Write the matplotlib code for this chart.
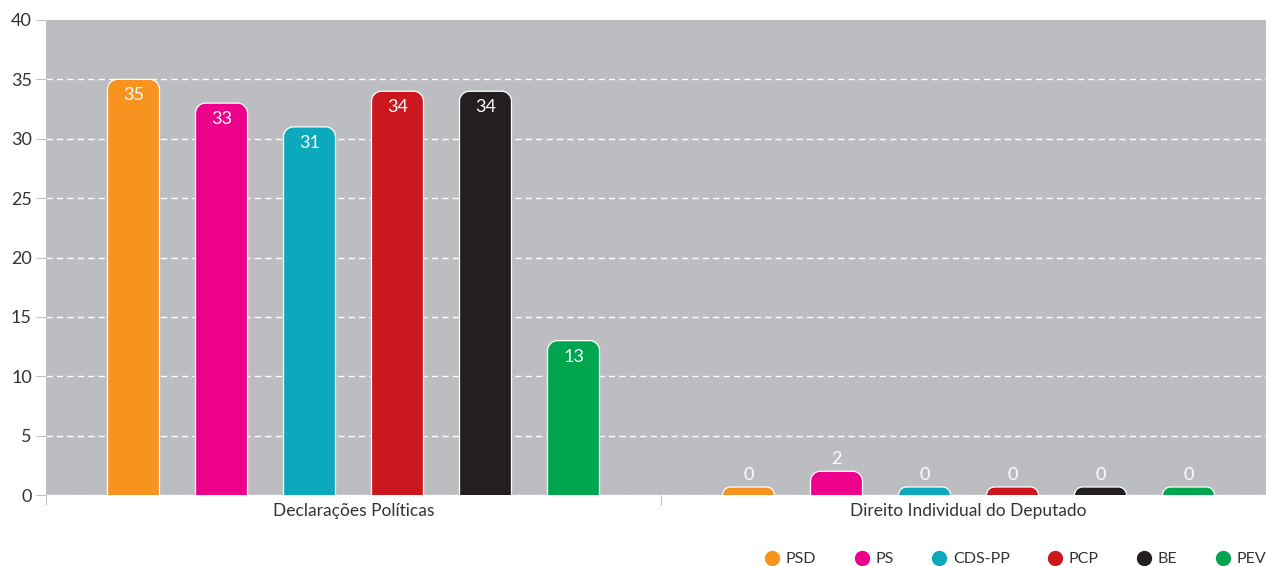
import matplotlib
matplotlib.use("Agg")
import matplotlib.pyplot as plt
from matplotlib.path import Path
from matplotlib.patches import PathPatch
from matplotlib.lines import Line2D

# ---- data ----
categories = ["Declarações Políticas", "Direito Individual do Deputado"]
parties = ["PSD", "PS", "CDS-PP", "PCP", "BE", "PEV"]
psd = [35, 0]
ps = [33, 2]
cds_pp = [31, 0]
pcp = [34, 0]
be = [34, 0]
pev = [13, 0]
series = [psd, ps, cds_pp, pcp, be, pev]
colors = ["#F7931E", "#EC008C", "#0CA9BD", "#CC171F", "#231F20", "#00A54F"]
y_ticks = [0, 5, 10, 15, 20, 25, 30, 35, 40]

plt.rcParams["font.family"] = ["Lato", "DejaVu Sans"]
plt.rcParams["lines.scale_dashes"] = False

W, H = 1266, 566
fig = plt.figure(figsize=(W / 100, H / 100), dpi=100)
ax = fig.add_axes([46 / W, 71 / H, 1230 / W, 475 / H])
ax.set_xlim(-0.5, len(categories) - 0.5)
ax.set_ylim(0, 40)
ax.set_facecolor("#BCBDC0")
for s in ax.spines.values():
    s.set_visible(False)

text_color = "#333333"
ax.set_yticks(y_ticks)
ax.tick_params(axis="y", length=7.2, width=0.8, color="#C0C0C0", pad=3,
               labelsize=13, labelcolor=text_color)
ax.set_xticks(range(len(categories)))
ax.set_xticklabels(categories)
ax.set_xticks([i - 0.5 for i in range(len(categories) + 1)], minor=True)
ax.tick_params(axis="x", which="major", length=0, pad=6, labelsize=12.5,
               labelcolor=text_color)
ax.tick_params(axis="x", which="minor", length=7.2, width=0.8, color="#C0C0C0")

ax.set_axisbelow(True)
ax.yaxis.grid(True, color="white", linewidth=1.0, dashes=(4.5, 3))
ax.xaxis.grid(False)
# no gridline along the top edge
ax.yaxis.get_gridlines()[-1].set_visible(False)

# pixel -> data unit conversions for rounded corners
fig.canvas.draw()
p0 = ax.transData.transform((0, 0))
p1 = ax.transData.transform((1, 1))
px_x = p1[0] - p0[0]
px_y = p1[1] - p0[1]

bar_px = 52
step_px = 88
radius_px = 10
min_px = 8
k = 0.5523

n = len(parties)
for i, (vals, col) in enumerate(zip(series, colors)):
    for c, v in enumerate(vals):
        xc = c + (i - (n - 1) / 2) * step_px / px_x
        x0 = xc - bar_px / 2 / px_x
        x1 = xc + bar_px / 2 / px_x
        h = max(v, min_px / px_y)
        r_px = min(radius_px, h * px_y)
        rx = r_px / px_x
        ry = r_px / px_y
        top = h
        verts = [(x0, 0), (x0, top - ry),
                 (x0, top - ry + k * ry), (x0 + rx - k * rx, top), (x0 + rx, top),
                 (x1 - rx, top),
                 (x1 - rx + k * rx, top), (x1, top - ry + k * ry), (x1, top - ry),
                 (x1, 0)]
        codes = [Path.MOVETO, Path.LINETO,
                 Path.CURVE4, Path.CURVE4, Path.CURVE4,
                 Path.LINETO,
                 Path.CURVE4, Path.CURVE4, Path.CURVE4,
                 Path.LINETO]
        fill = PathPatch(Path(verts + [(x0, 0)], codes + [Path.CLOSEPOLY]),
                         facecolor=col, edgecolor="none", zorder=3)
        ax.add_patch(fill)
        edge = PathPatch(Path(verts, codes), facecolor="none",
                         edgecolor="white", linewidth=0.9, zorder=4)
        ax.add_patch(edge)
        dy = -11.5 if v >= 5 else 9
        ax.annotate(str(v), (xc, top), xytext=(0, dy), textcoords="offset points",
                    ha="center", va="center", color="white", fontsize=13, zorder=5)

handles = [Line2D([], [], marker="o", linestyle="none", markersize=10,
                  markerfacecolor=c, markeredgecolor=c) for c in colors]
fig.legend(handles, parties, loc="center left", bbox_to_anchor=(766 / W, 1 - 559 / H),
           ncol=n, frameon=False, fontsize=11.5, handlelength=0.8, handletextpad=0.45,
           columnspacing=2.45, labelcolor=text_color, borderpad=0, borderaxespad=0)

fig.savefig("out.png", dpi=100, facecolor="white")
